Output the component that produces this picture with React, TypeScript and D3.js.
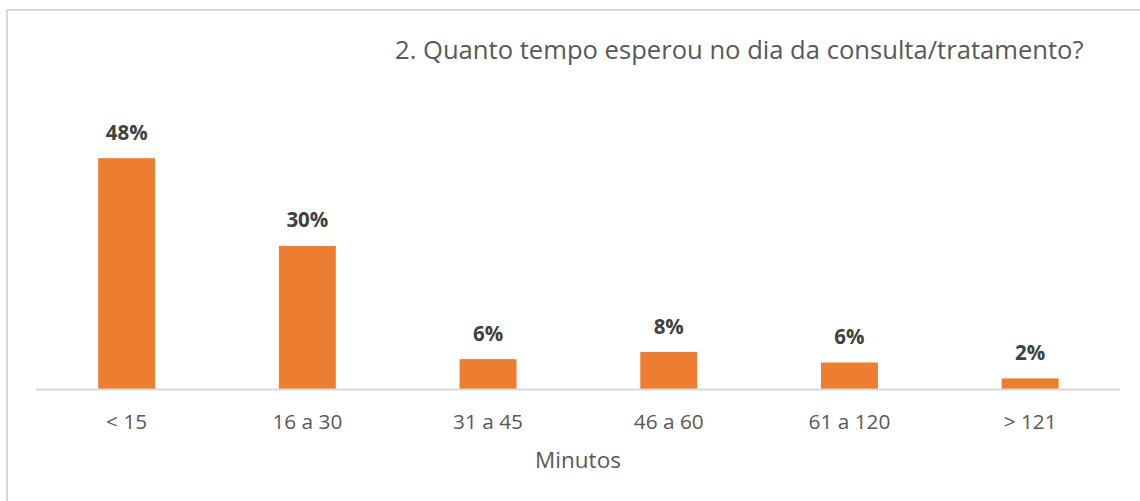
import React from "react";
import * as d3 from "d3";

const categories: string[] = ["< 15", "16 a 30", "31 a 45", "46 a 60", "61 a 120", "> 121"];
const values: number[] = [0.48, 0.298, 0.063, 0.078, 0.056, 0.023];
const title = "2. Quanto tempo esperou no dia da consulta/tratamento?";
const axisTitle = "Minutos";

const W = 1140;
const H = 501;
const FONT = "'Open Sans', sans-serif";

export default function App() {
  const x = d3
    .scaleBand<string>()
    .domain(categories)
    .range([36.3, 1120.5])
    .paddingInner(0.685)
    .paddingOuter(0.3425);
  const baseY = 389.5;
  const y = d3.scaleLinear().domain([0, 0.6]).range([baseY, baseY - 0.6 * 481.9]);
  const fmt = d3.format(".0%");

  return (
    <div style={{ position: "absolute", left: 0, top: 0 }}>
      <svg width={W} height={H} style={{ display: "block", background: "#fff" }}>
        <rect x={7} y={10} width={W + 20} height={H + 20} fill="#fff" stroke="#D9D9D9" strokeWidth={2} />
        <text x={395} y={59.3} fontFamily={FONT} fontSize={25.6} fill="#595959">
          {title}
        </text>
        {categories.map((c, i) => (
          <rect
            key={c}
            x={x(c)!}
            y={y(values[i])}
            width={x.bandwidth()}
            height={baseY - y(values[i])}
            fill="#ED7D31"
          />
        ))}
        <line x1={36} x2={1120} y1={baseY} y2={baseY} stroke="#D9D9D9" strokeWidth={2} />
        {categories.map((c, i) => (
          <text
            key={"v" + c}
            x={x(c)! + x.bandwidth() / 2}
            y={y(values[i]) - 18.4}
            textAnchor="middle"
            fontFamily={FONT}
            fontWeight="bold"
            fontSize={20.5}
            fill="#404040"
          >
            {fmt(values[i])}
          </text>
        ))}
        {categories.map((c) => (
          <text
            key={"c" + c}
            x={x(c)! + x.bandwidth() / 2}
            y={429}
            textAnchor="middle"
            fontFamily={FONT}
            fontSize={20.8}
            fill="#595959"
          >
            {c}
          </text>
        ))}
        <text x={578} y={468.3} textAnchor="middle" fontFamily={FONT} fontSize={22.5} fill="#595959">
          {axisTitle}
        </text>
      </svg>
    </div>
  );
}
